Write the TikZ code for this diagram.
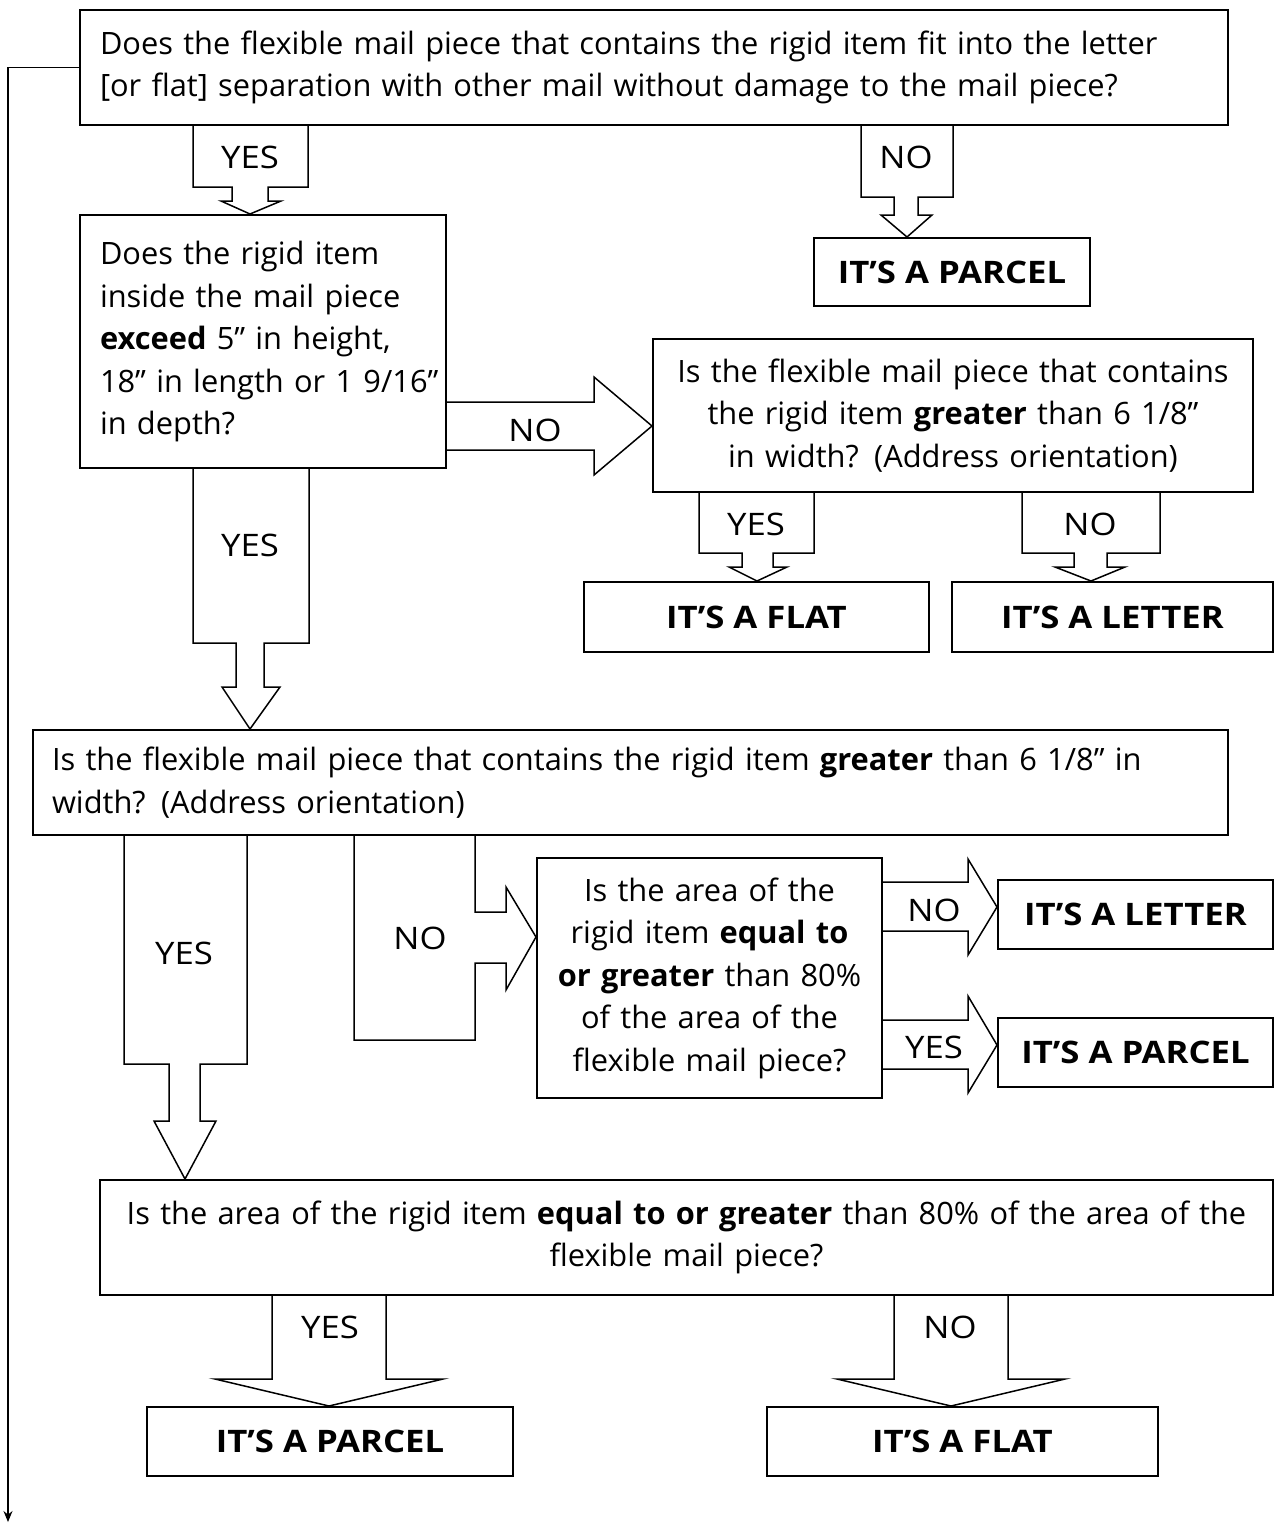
\documentclass[tikz,border=0pt]{standalone}
\usepackage{fontspec}
\setmainfont{Open Sans}
\newfontfamily\capfont{Open Sans}[FakeStretch=1.12]
\usetikzlibrary{arrows.meta}
\newcommand{\qfont}{\fontsize{30.8}{42.5}\selectfont}
\newcommand{\kfont}{\capfont\fontsize{31}{40}\selectfont}
\begin{document}
\begin{tikzpicture}[x=1pt,y=-1pt,
  qbox/.style={draw, line width=2pt, inner sep=0pt, font=\qfont},
  outbox/.style={draw, line width=2pt, inner sep=0pt, font=\kfont\bfseries},
  blk/.style={draw, line width=1.5pt, line join=miter},
  lbl/.style={font=\kfont, inner sep=0pt}]
\useasboundingbox (0,0) rectangle (1275,1524);
% question boxes
\node[qbox, minimum width=1148pt, minimum height=115pt, text width=1108pt, align=left] (q1) at (654,67.5)
  {\mbox{Does the flexible mail piece that contains the rigid item fit into the letter}\\\relax \mbox{[or flat] separation with other mail without damage to the mail piece?}};
\node[qbox, minimum width=366pt, minimum height=253pt, text width=326pt, align=left] (q2) at (263,341.5)
  {\mbox{Does the rigid item}\\ \mbox{inside the mail piece}\\ \mbox{\textbf{exceed} 5" in height,}\\ \mbox{18" in length or 1 9/16"}\\ in depth?};
\node[qbox, minimum width=600pt, minimum height=153pt, text width=590pt, align=center] (q3) at (953,415.5)
  {Is the flexible mail piece that contains\\ the rigid item \textbf{greater} than 6 1/8"\\ in width? (Address orientation)};
\node[qbox, minimum width=1195pt, minimum height=105pt, text width=1157pt, align=left] (q4) at (630.5,782.5)
  {\mbox{Is the flexible mail piece that contains the rigid item \textbf{greater} than 6 1/8" in}\\ width? (Address orientation)};
\node[qbox, minimum width=345pt, minimum height=240pt, text width=340pt, align=center] (q5) at (709.5,978)
  {Is the area of the\\ rigid item \textbf{equal to}\\ \textbf{or greater} than 80\%\\ of the area of the\\ flexible mail piece?};
\node[qbox, minimum width=1173pt, minimum height=115pt, text width=1165pt, align=center] (q6) at (686.5,1237.5)
  {\mbox{Is the area of the rigid item \textbf{equal to or greater} than 80\% of the area of the}\\ flexible mail piece?};
% outcome boxes
\node[outbox, minimum width=276pt, minimum height=68pt] (p1) at (952,272) {IT’S A PARCEL};
\node[outbox, minimum width=345pt, minimum height=70pt] (f1) at (756.5,617) {IT’S A FLAT};
\node[outbox, minimum width=321pt, minimum height=70pt] (l1) at (1112.5,617) {IT’S A LETTER};
\node[outbox, minimum width=275pt, minimum height=69pt] (l2) at (1135.5,914.5) {IT’S A LETTER};
\node[outbox, minimum width=275pt, minimum height=69pt] (p2) at (1135.5,1052.5) {IT’S A PARCEL};
\node[outbox, minimum width=366pt, minimum height=69pt] (p3) at (330,1441.5) {IT’S A PARCEL};
\node[outbox, minimum width=391pt, minimum height=69pt] (f3) at (962.5,1441.5) {IT’S A FLAT};
% block arrows
\draw[blk] (193,0 |- q1.south) -- (193,187) -- (232,187) -- (232,201) -- (221,201) -- (250,0 |- q2.north) -- (281,201) -- (268,201) -- (268,187) -- (308,187) -- (308,0 |- q1.south);
\draw[blk] (861,0 |- q1.south) -- (861,197) -- (894,197) -- (894,215) -- (881,215) -- (907,0 |- p1.north) -- (932,215) -- (918,215) -- (918,197) -- (953,197) -- (953,0 |- q1.south);
\draw[blk] (q2.east |- 0,402) -- (594,402) -- (594,377) -- (q3.west |- 0,426) -- (594,475) -- (594,450) -- (q2.east |- 0,450);
\draw[blk] (193,0 |- q2.south) -- (193,643) -- (236,643) -- (236,687) -- (222,687) -- (250,0 |- q4.north) -- (280,687) -- (264,687) -- (264,643) -- (309,643) -- (309,0 |- q2.south);
\draw[blk] (699,0 |- q3.south) -- (699,553) -- (742,553) -- (742,567) -- (729,567) -- (757,0 |- f1.north) -- (787,567) -- (773,567) -- (773,553) -- (814,553) -- (814,0 |- q3.south);
\draw[blk] (1022,0 |- q3.south) -- (1022,553) -- (1074,553) -- (1074,567) -- (1055,567) -- (1091,0 |- l1.north) -- (1125,567) -- (1107,567) -- (1107,553) -- (1160,553) -- (1160,0 |- q3.south);
\draw[blk] (124,0 |- q4.south) -- (124,1064) -- (169,1064) -- (169,1121) -- (154,1121) -- (185,0 |- q6.north) -- (216,1121) -- (200,1121) -- (200,1064) -- (247,1064) -- (247,0 |- q4.south);
\draw[blk] (354,0 |- q4.south) -- (354,1040) -- (475,1040) -- (475,963) -- (506,963) -- (506,990) -- (q5.west |- 0,937) -- (506,887) -- (506,912) -- (475,912) -- (475,0 |- q4.south);
\draw[blk] (q5.east |- 0,882) -- (968,882) -- (968,859) -- (l2.west |- 0,907) -- (968,955) -- (968,931) -- (q5.east |- 0,931);
\draw[blk] (q5.east |- 0,1020) -- (968,1020) -- (968,996) -- (p2.west |- 0,1045) -- (968,1093) -- (968,1069) -- (q5.east |- 0,1069);
\draw[blk] (272,0 |- q6.south) -- (272,1379) -- (215,1379) -- (329,0 |- p3.north) -- (443,1379) -- (386,1379) -- (386,0 |- q6.south);
\draw[blk] (894,0 |- q6.south) -- (894,1379) -- (837,1379) -- (951,0 |- f3.north) -- (1065,1379) -- (1008,1379) -- (1008,0 |- q6.south);
% labels
\node[lbl] (y1) at (250,157) {YES};
\node[lbl] (n1) at (906,157) {NO};
\node[lbl] (n2) at (535,430) {NO};
\node[lbl] (y3) at (756,524) {YES};
\node[lbl] (n3) at (1090,524) {NO};
\node[lbl] (y2) at (250,545) {YES};
\node[lbl] (y4) at (184,953) {YES};
\node[lbl] (n4) at (420,938) {NO};
\node[lbl] (n5) at (934,910) {NO};
\node[lbl] (y5) at (934,1047) {YES};
\node[lbl] (y6) at (330,1327) {YES};
\node[lbl] (n6) at (950,1327) {NO};
% feedback line
\coordinate (fbend) at (8,1522);
\draw[line width=1.4pt, -{Stealth[length=11pt,width=9pt]}] (q1.west) -| (fbend);
\end{tikzpicture}
\end{document}
